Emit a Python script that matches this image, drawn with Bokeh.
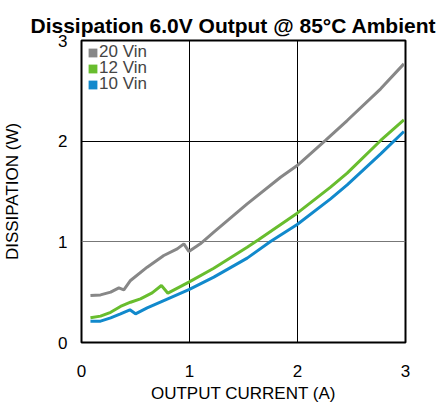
from bokeh.plotting import figure
from bokeh.models import Legend, LegendItem, FixedTicker, Range1d, Grid
from bokeh.embed import file_html
from bokeh.resources import INLINE

series_names = ["20 Vin", "12 Vin", "10 Vin"]
series_colors = ["#878787", "#68bd2e", "#1189cc"]

x_20 = [0.083, 0.176, 0.27, 0.346, 0.392, 0.454, 0.608, 0.762, 0.886, 0.948, 0.994, 1.10, 1.225, 1.534, 1.843, 1.997, 2.259, 2.46, 2.77, 2.985]
y_20 = [0.467, 0.473, 0.50, 0.543, 0.523, 0.616, 0.748, 0.864, 0.93, 0.98, 0.904, 0.98, 1.096, 1.377, 1.642, 1.758, 2.007, 2.205, 2.52, 2.768]

x_12 = [0.083, 0.176, 0.27, 0.361, 0.454, 0.546, 0.654, 0.74, 0.80, 0.994, 1.225, 1.534, 1.642, 1.997, 2.306, 2.46, 2.77, 2.985]
y_12 = [0.245, 0.262, 0.30, 0.358, 0.40, 0.434, 0.493, 0.566, 0.49, 0.60, 0.738, 0.947, 1.023, 1.285, 1.543, 1.682, 2.007, 2.212]

x_10 = [0.083, 0.176, 0.27, 0.361, 0.448, 0.50, 0.608, 0.762, 0.994, 1.225, 1.534, 1.75, 1.997, 2.306, 2.46, 2.77, 2.985]
y_10 = [0.212, 0.212, 0.245, 0.285, 0.325, 0.285, 0.344, 0.417, 0.526, 0.649, 0.838, 1.003, 1.172, 1.427, 1.566, 1.874, 2.096]

ticks = [0, 1, 2, 3]
black_yticks = [0, 2, 3]
gray_yticks = [1]

p = figure(frame_width=324, frame_height=302, output_backend="svg", toolbar_location=None,
           x_range=Range1d(0, 3), y_range=Range1d(0, 3),
           min_border_left=73, min_border_right=34, min_border_top=40, min_border_bottom=0)

p.title.text = "Dissipation 6.0V Output @ 85°C Ambient"
p.title.align = "left"
p.title.offset = -51
p.title.standoff = 8
p.title.text_font = "Liberation Sans"
p.title.text_font_size = "21px"
p.title.text_font_style = "bold"
p.title.text_color = "black"

p.outline_line_color = "black"
p.outline_line_width = 2
p.outline_line_alpha = 1

for ax in (p.xaxis[0], p.yaxis[0]):
    ax.ticker = FixedTicker(ticks=ticks)
    ax.axis_line_color = None
    ax.major_tick_line_color = None
    ax.minor_tick_line_color = None
    ax.major_tick_out = 0
    ax.major_tick_in = 0
    ax.minor_tick_out = 0
    ax.minor_tick_in = 0
    ax.major_label_text_font = "Liberation Sans"
    ax.major_label_text_font_size = "17px"
    ax.major_label_text_color = "black"
    ax.axis_label_text_font = "Liberation Sans"
    ax.axis_label_text_font_size = "17px"
    ax.axis_label_text_font_style = "normal"
    ax.axis_label_text_color = "black"

p.xaxis.axis_label = "OUTPUT CURRENT (A)"
p.yaxis.axis_label = "DISSIPATION (W)"
p.xaxis.major_label_standoff = 22
p.yaxis.major_label_standoff = 14
p.xaxis.axis_label_standoff = 4
p.yaxis.axis_label_standoff = 33

p.xgrid.ticker = FixedTicker(ticks=ticks)
p.ygrid.ticker = FixedTicker(ticks=black_yticks)
p.grid.grid_line_color = "black"
p.grid.grid_line_alpha = 1
p.grid.grid_line_width = 1
p.add_layout(Grid(dimension=1, ticker=FixedTicker(ticks=gray_yticks),
                  grid_line_color="#777777", grid_line_width=1))

legend_offsets = [280, 264, 248]
for name, color, xs, ys, vy in zip(series_names, series_colors, [x_20, x_12, x_10], [y_20, y_12, y_10], legend_offsets):
    p.line(xs, ys, line_color=color, line_width=3)
    sw = p.rect(xs[:1], ys[:1], width=0.01, height=0.01, fill_color=color, line_color=None, visible=False)
    lg = Legend(items=[LegendItem(label=name, renderers=[sw])], location=(6, vy))
    lg.background_fill_alpha = 0
    lg.border_line_color = None
    lg.padding = 0
    lg.margin = 0
    lg.spacing = 0
    lg.glyph_width = 11
    lg.glyph_height = 11
    lg.label_height = 11
    lg.label_standoff = 1
    lg.label_text_font = "Liberation Sans"
    lg.label_text_font_size = "17px"
    p.add_layout(lg)

open("out.html", "w").write(file_html(p, INLINE))
